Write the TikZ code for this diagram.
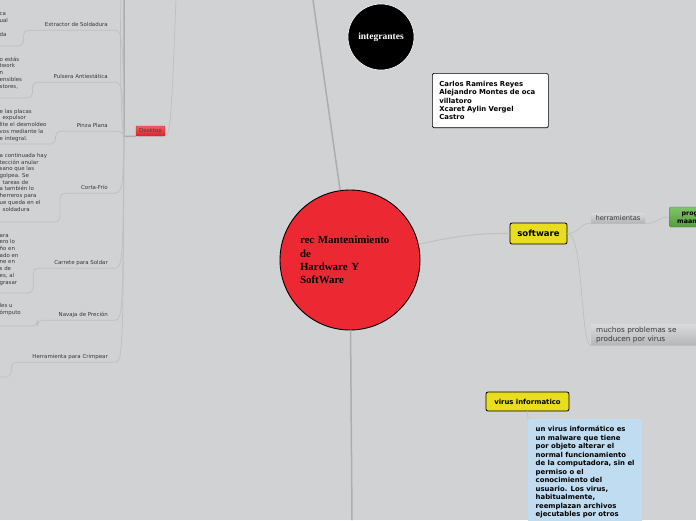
\documentclass[tikz,border=0pt]{standalone}
\usepackage{fontspec}
\setmainfont{DejaVu Sans}
\newfontfamily\serifbold{Liberation Serif}
\usepackage{tikz}
\usetikzlibrary{arrows.meta, positioning, shapes.geometric, fit, backgrounds}

\definecolor{canvas}{RGB}{209,210,212}
\definecolor{stemgray}{RGB}{172,173,175}
\definecolor{twiggray}{RGB}{190,191,193}
\definecolor{inkgray}{RGB}{55,55,55}
\definecolor{corered}{RGB}{236,41,51}
\definecolor{topicyellow}{RGB}{233,221,32}
\definecolor{taglight}{RGB}{218,218,219}
\definecolor{tagdark}{RGB}{182,182,183}
\definecolor{proglight}{RGB}{128,196,104}
\definecolor{progdark}{RGB}{84,156,62}
\definecolor{progline}{RGB}{70,130,55}
\definecolor{desklight}{RGB}{242,92,98}
\definecolor{deskdark}{RGB}{212,36,44}
\definecolor{noteblue}{RGB}{192,220,240}

\tikzset{
  stem/.style={draw=stemgray, line width=1.5pt},
  branch/.style={draw=twiggray, line width=1pt},
  twig/.style={draw=twiggray, line width=0.7pt},
  topic/.style={draw=black, line width=0.8pt, fill=topicyellow, rounded corners=2pt,
    font=\bfseries\fontsize{8.5}{10}\selectfont},
  tag/.style={top color=taglight, bottom color=tagdark, text=inkgray},
  twiglabel/.style={anchor=base east, text=inkgray, font=\fontsize{5.45}{6.7}\selectfont,
    text height=4pt, text depth=1.5pt, inner ysep=2.5pt, inner xsep=7pt},
  info/.style={anchor=base west, align=left, inner sep=0pt, text=inkgray,
    font=\fontsize{5.45}{6.7}\selectfont}
}

\begin{document}
\begin{tikzpicture}[x=1pt, y=-1pt]
  \useasboundingbox (0,0) rectangle (696,520);
  \clip (0,0) rectangle (696,520);
  \fill[canvas] (0,0) rectangle (696,520);

  \node (core)  [circle, draw=black, line width=0.9pt, fill=corered, minimum size=140pt,
                 text width=100pt, align=left,
                 font=\serifbold\bfseries\fontsize{10.9}{13.3}\selectfont] at (350,260)
                {rec Mantenimiento\\de\\Hardware Y\\SoftWare};
  \node (crew)  [circle, fill=black, draw=white, line width=0.6pt, minimum size=66pt,
                 text=white, font=\serifbold\bfseries\fontsize{9.5}{11}\selectfont] at (381,37)
                {integrantes};
  \node (names) [draw=black, fill=white, rounded corners=1.5pt, line width=0.7pt,
                 text width=102pt, align=left, inner xsep=7pt, inner ysep=8pt, anchor=north west,
                 font=\bfseries\fontsize{6.9}{8.25}\selectfont] at (432,73)
                {Carlos Ramires Reyes\\Alejandro Montes de oca\\villatoro\\Xcaret Aylin Vergel\\Castro};

  \node (soft)  [topic, minimum width=57pt, minimum height=21pt] at (538.5,233.5) {software};
  \node (herr)  [tag, minimum width=54pt, minimum height=10pt, inner sep=1pt,
                 font=\fontsize{6.7}{8}\selectfont] at (618,218) {herramientas};
  \node (prog)  [draw=progline, top color=proglight, bottom color=progdark, rounded corners=1.5pt,
                 align=center, inner xsep=8pt, minimum height=20pt, anchor=west,
                 font=\bfseries\fontsize{6.3}{8}\selectfont] at (669,217)
                {programas de\\maantenimiento};
  \node (much)  [tag, text width=110pt, align=left, inner xsep=5pt, inner ysep=2.5pt,
                 anchor=north west, font=\fontsize{7.3}{9}\selectfont] at (591,324)
                {muchos problemas se\\producen por virus};

  \node (virus) [topic, minimum width=83pt, minimum height=19pt,
                 font=\bfseries\fontsize{6.9}{8}\selectfont] at (527.5,401.5) {virus informatico};
  \node (note)  [fill=noteblue, rounded corners=1.5pt, align=left, inner xsep=7.5pt, inner ysep=7pt,
                 anchor=north west, font=\bfseries\fontsize{6.9}{8.5}\selectfont] at (528,419)
                {un virus informático es\\un malware que tiene\\por objeto alterar el\\normal funcionamiento\\de la computadora, sin el\\permiso o el\\conocimiento del\\usuario. Los virus,\\habitualmente,\\reemplazan archivos\\ejecutables por otros\\[8pt]\mbox{}};

  \node (desk)  [top color=desklight, bottom color=deskdark, draw=deskdark, rounded corners=1pt,
                 minimum width=29pt, minimum height=10pt, inner sep=0.5pt, text=black!75,
                 font=\fontsize{5.5}{6}\selectfont] at (150.5,131) {Desktop};

  \node (extractor) [twiglabel] at (115,26)  {\hspace*{8pt}Extractor de Soldadura};
  \node (pulsera)   [twiglabel] at (115,78)  {\hspace*{8pt}Pulsera Antiestática};
  \node (pinza)     [twiglabel] at (115,127) {\hspace*{8pt}Pinza Plana};
  \node (corta)     [twiglabel] at (115,189) {\hspace*{8pt}Corta-Frío};
  \node (carrete)   [twiglabel] at (115,264) {\hspace*{8pt}Carrete para Soldar};
  \node (navaja)    [twiglabel] at (115,316) {\hspace*{8pt}Navaja de Preción};
  \node (crimpear)  [twiglabel] at (115,358) {\hspace*{8pt}Herramienta para Crimpear};

  \node (extractorinfo) [info] at (-0.5,36)  {ca\\ual\\\mbox{}\\da};
  \node (pulserainfo)   [info] at (-0.5,88)  {o estás\\twork\\n\\ensibles\\stores,};
  \node (pinzainfo)     [info] at (-0.5,140) {e las placas\\\hspace*{3pt}expulsor\\lite el desmoldeo\\vos mediante la\\e integral.};
  \node (cortainfo)     [info] at (-0.5,211) {a continuada hay\\tección anular\\sano que las\\golpea. Se\\\hspace*{3pt}tareas de\\a también lo\\herreros para\\ue queda en el\\\hspace*{3pt}soldadura};
  \node (carreteinfo)   [info] at (-0.5,284) {ara\\ero lo\\ño en\\ado en\\ne en\\s de\\es, al\\grasar};
  \node (navajainfo)    [info] at (-0.5,314) {les u\\ómputo};

  \coordinate (hub)  at (124,136.5);
  \coordinate (topa) at (121,0);
  \coordinate (topb) at (124,0);
  \coordinate (topc) at (176,0);
  \coordinate (topd) at (313,0);
  \coordinate (botd) at (352,520);
  \coordinate (extractorend) at (-2,46);
  \coordinate (pulseraend)   at (-2,98);
  \coordinate (pinzaend)     at (-2,144);
  \coordinate (cortaend)     at (-2,222);
  \coordinate (carreteend)   at (-2,293);
  \coordinate (navajaend)    at (-2,326);
  \coordinate (crimpearend)  at (-2,377);

  \draw[stem] (core) -- (topd);
  \draw[stem] (core) -- (botd);
  \draw[branch] (core) .. controls (455,236) and (480,233) .. (soft.west);
  \draw[twig] (soft.east) .. controls (580,233) and (578,224) .. (herr.south west) -- (herr.south east)
              .. controls (660,224) and (655,217) .. (prog.west);
  \draw[twig] (soft.east) .. controls (584,234) and (580,345) .. (much.south west) -- (much.south east);
  \draw[twig] (virus.south) -- (note.north west);

  \draw[stem] (desk.south west) -- (hub) -- (topb);
  \draw[twig] (hub) .. controls (120,120) and (120,30) .. (topa);
  \draw[twig] (desk.south east) .. controls (171,137) and (172,100) .. (topc);
  \foreach \a/\b/\c in {extractor/extractorend/42, pulsera/pulseraend/94, pinza/pinzaend/134,
                        corta/cortaend/181, carrete/carreteend/256, navaja/navajaend/308,
                        crimpear/crimpearend/350}
    \draw[twig] (hub) .. controls (123,\c) and ([xshift=8pt]\a.south east) .. (\a.south east)
                -- (\a.south west) [rounded corners=5pt] -- ++(-6,0) |- (\b);
\end{tikzpicture}
\end{document}
